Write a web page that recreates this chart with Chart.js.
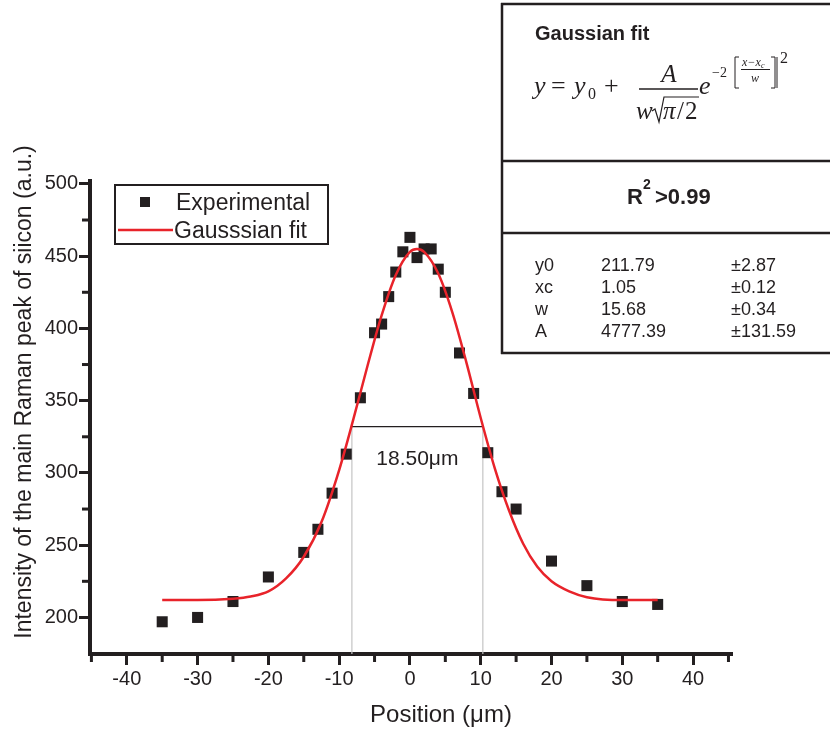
<!DOCTYPE html>
<html>
<head>
<meta charset="utf-8">
<title>Raman intensity across the line</title>
<script src="https://cdn.jsdelivr.net/npm/chart.js@4.4.0/dist/chart.umd.min.js"></script>
<style>
  html, body { margin: 0; padding: 0; background: #ffffff; }
  #wrap { width: 830px; height: 729px; }
</style>
</head>
<body>
<div id="wrap"><canvas id="raman" width="830" height="729"></canvas></div>
<script>
const positions = [-35, -30, -25, -20, -15, -13, -11, -9, -7, -5, -4, -3, -2, -1, 0, 1, 2, 3, 4, 5, 7, 9, 11, 13, 15, 20, 25, 30, 35];
const intensity = [197, 200, 211, 228, 245, 261, 286, 313, 352, 397, 403, 422, 439, 453, 463, 449, 455, 455, 441, 425, 383, 355, 314, 287, 275, 239, 222, 211, 209];

// Red fit curve, sampled from the figure
const fitX = [-35, -30, -25, -22.5, -20, -17.5, -15, -12.5, -10, -8, -6, -4, -2, 0, 1, 2, 4, 6, 8, 10, 12, 14, 16, 18, 20, 22.5, 25, 30, 35];
const fitY = [212, 212, 213, 214.5, 218, 227, 242, 266, 302, 337, 374, 409, 437, 453, 455, 453, 438, 411, 376, 338, 303, 274, 251, 235, 225, 218, 214, 212, 212];

// FWHM marker
const fwhmEdges = [-8.2, 10.3];
const fwhmLevel = 332;
const fwhmCentre = 1.05;
const fwhmLabel = '18.50\u03bcm';

// Axis ticks
const xTickValues = [-40, -30, -20, -10, 0, 10, 20, 30, 40];
const xMinorValues = [-45, -35, -25, -15, -5, 5, 15, 25, 35, 45];
const yTickValues = [200, 250, 300, 350, 400, 450, 500];
const yMinorValues = [225, 275, 325, 375, 425, 475];

// Fit parameter table
const paramNames = ['y0', 'xc', 'w', 'A'];
const paramValues = ['211.79', '1.05', '15.68', '4777.39'];
const paramErrors = ['\u00b12.87', '\u00b10.12', '\u00b10.34', '\u00b1131.59'];

const INK = '#231f20';
const RED = '#e8232a';
const SANS = '"Liberation Sans", Arial, Helvetica, sans-serif';
const SERIF = '"Liberation Serif", "Times New Roman", serif';

function hline(ctx, x1, x2, y) {
    ctx.beginPath(); ctx.moveTo(x1, y); ctx.lineTo(x2, y); ctx.stroke();
}
function vline(ctx, x, y1, y2) {
    ctx.beginPath(); ctx.moveTo(x, y1); ctx.lineTo(x, y2); ctx.stroke();
}

function drawFormula(ctx) {
    const it = s => 'italic ' + s + 'px ' + SERIF;
    const up = s => s + 'px ' + SERIF;
    ctx.fillStyle = INK;
    ctx.strokeStyle = INK;
    ctx.textBaseline = 'alphabetic';
    ctx.textAlign = 'left';

    ctx.font = it(26); ctx.fillText('y', 534, 94);
    ctx.font = up(26); ctx.fillText('=', 551, 94);
    ctx.font = it(26); ctx.fillText('y', 574, 94);
    ctx.font = up(16); ctx.fillText('0', 588, 99);
    ctx.font = up(26); ctx.fillText('+', 604, 94);

    // fraction A / (w sqrt(pi/2))
    ctx.font = it(25); ctx.textAlign = 'center'; ctx.fillText('A', 669, 82);
    ctx.lineWidth = 1.3; hline(ctx, 639, 698, 89);
    ctx.textAlign = 'left';
    ctx.fillText('w', 636, 119);
    ctx.lineWidth = 1.2;
    ctx.beginPath();
    ctx.moveTo(652, 111); ctx.lineTo(655, 109); ctx.lineTo(659, 122);
    ctx.lineTo(664, 97); ctx.lineTo(699, 97);
    ctx.stroke();
    ctx.fillText('\u03c0', 663, 119);
    ctx.font = up(25); ctx.fillText('/', 677, 119); ctx.fillText('2', 685, 119);
    ctx.font = it(26); ctx.fillText('e', 699, 94);

    // exponent -2[(x - xc)/w]^2
    ctx.font = up(14); ctx.fillText('\u22122', 712, 77);
    ctx.lineWidth = 1;
    ctx.beginPath(); ctx.moveTo(739, 57); ctx.lineTo(735, 57); ctx.lineTo(735, 88); ctx.lineTo(739, 88); ctx.stroke();
    ctx.font = it(12); ctx.fillText('x\u2212x', 742, 66);
    ctx.font = it(8); ctx.fillText('c', 761, 68);
    hline(ctx, 741, 770, 69.5);
    ctx.font = it(12); ctx.textAlign = 'center'; ctx.fillText('w', 755, 82);
    ctx.textAlign = 'left';
    ctx.beginPath(); ctx.moveTo(771, 57); ctx.lineTo(775, 57); ctx.lineTo(775, 88); ctx.lineTo(771, 88); ctx.stroke();
    ctx.beginPath(); ctx.moveTo(777, 57); ctx.lineTo(777, 88); ctx.stroke();
    ctx.font = up(16); ctx.fillText('2', 780, 63);
}

function drawTable(ctx) {
    ctx.save();
    ctx.fillStyle = '#ffffff';
    ctx.fillRect(502, 4, 330, 349);
    ctx.strokeStyle = INK;
    ctx.lineWidth = 2.5;
    vline(ctx, 502, 3, 354);
    hline(ctx, 501, 831, 4);
    hline(ctx, 501, 831, 161);
    hline(ctx, 501, 831, 233);
    hline(ctx, 501, 831, 353);

    ctx.fillStyle = INK;
    ctx.textBaseline = 'alphabetic';
    ctx.font = 'bold 20px ' + SANS;
    ctx.fillText('Gaussian fit', 535, 40);
    drawFormula(ctx);

    ctx.font = 'bold 22px ' + SANS;
    ctx.fillText('R', 627, 204);
    ctx.font = 'bold 14px ' + SANS;
    ctx.fillText('2', 643, 189);
    ctx.font = 'bold 22px ' + SANS;
    ctx.fillText('>0.99', 655, 204);

    ctx.font = '18px ' + SANS;
    paramNames.forEach((n, i) => {
        const by = 271 + i * 22;
        ctx.fillText(n, 535, by);
        ctx.fillText(paramValues[i], 601, by);
        ctx.fillText(paramErrors[i], 731, by);
    });
    ctx.restore();
}

function drawLegend(ctx) {
    ctx.save();
    ctx.strokeStyle = INK;
    ctx.lineWidth = 2;
    ctx.strokeRect(115, 185, 213, 59);
    ctx.fillStyle = INK;
    ctx.fillRect(140, 197, 10, 10);
    ctx.strokeStyle = RED;
    ctx.lineWidth = 2.5;
    hline(ctx, 118, 173, 230);
    ctx.fillStyle = INK;
    ctx.font = '23px ' + SANS;
    ctx.textBaseline = 'alphabetic';
    ctx.fillText('Experimental', 176, 210);
    ctx.fillText('Gausssian fit', 174, 238);
    ctx.restore();
}

const extras = {
    id: 'extras',
    afterDraw(chart) {
        const ctx = chart.ctx;
        const area = chart.chartArea;
        const xs = chart.scales.x, ys = chart.scales.y;
        ctx.save();

        // minor ticks
        ctx.strokeStyle = INK;
        ctx.lineWidth = 3;
        xMinorValues.forEach(v => {
            const px = xs.getPixelForValue(v);
            vline(ctx, px, area.bottom, area.bottom + 8);
        });
        yMinorValues.forEach(v => {
            const py = ys.getPixelForValue(v);
            hline(ctx, area.left - 8, area.left, py);
        });

        // FWHM label
        ctx.fillStyle = INK;
        ctx.font = '21px ' + SANS;
        ctx.textAlign = 'center';
        ctx.textBaseline = 'alphabetic';
        ctx.fillText(fwhmLabel, xs.getPixelForValue(fwhmCentre), 465);

        // axis titles
        ctx.font = '24px ' + SANS;
        ctx.fillText('Position (\u03bcm)', 441, 722);
        ctx.save();
        ctx.translate(31, 392);
        ctx.rotate(-Math.PI / 2);
        ctx.font = '23px ' + SANS;
        ctx.fillText('Intensity of the main Raman peak of siicon (a.u.)', 0, 0);
        ctx.restore();

        ctx.restore();
        drawLegend(ctx);
        drawTable(ctx);
    }
};

const tickFont = { family: SANS, size: 20 };

new Chart(document.getElementById('raman'), {
    type: 'scatter',
    data: {
        datasets: [{
            label: 'Gausssian fit',
            data: fitX.map((x, i) => ({ x: x, y: fitY[i] })),
            showLine: true,
            borderColor: RED,
            borderWidth: 2.5,
            pointRadius: 0,
            cubicInterpolationMode: 'monotone'
        }, {
            label: 'Experimental',
            data: positions.map((x, i) => ({ x: x, y: intensity[i] })),
            pointStyle: 'rect',
            pointRadius: 7.8,
            backgroundColor: INK,
            borderWidth: 0
        }, {
            label: 'half maximum',
            data: [{ x: fwhmEdges[0], y: fwhmLevel }, { x: fwhmEdges[1], y: fwhmLevel }],
            showLine: true,
            borderColor: INK,
            borderWidth: 1.2,
            pointRadius: 0
        }, {
            label: 'left edge',
            data: [{ x: fwhmEdges[0], y: fwhmLevel }, { x: fwhmEdges[0], y: 150 }],
            showLine: true,
            borderColor: '#c4c4c4',
            borderWidth: 1.2,
            pointRadius: 0
        }, {
            label: 'right edge',
            data: [{ x: fwhmEdges[1], y: fwhmLevel }, { x: fwhmEdges[1], y: 150 }],
            showLine: true,
            borderColor: '#c4c4c4',
            borderWidth: 1.2,
            pointRadius: 0
        }]
    },
    options: {
        responsive: false,
        animation: false,
        events: [],
        layout: { padding: { left: 0, top: 181, right: 98, bottom: 0 } },
        plugins: {
            legend: { display: false },
            tooltip: { enabled: false }
        },
        scales: {
            x: {
                type: 'linear',
                min: -45.2,
                max: 45.5,
                afterBuildTicks: s => { s.ticks = xTickValues.map(v => ({ value: v })); },
                afterFit: s => { s.height = 75; },
                border: { display: true, color: INK, width: 4 },
                grid: { drawOnChartArea: false, drawTicks: true, tickLength: 11, tickWidth: 3, tickColor: INK },
                ticks: { color: INK, font: tickFont, padding: 2, maxRotation: 0, autoSkip: false }
            },
            y: {
                type: 'linear',
                min: 174.7,
                max: 502,
                afterBuildTicks: s => { s.ticks = yTickValues.map(v => ({ value: v })); },
                afterFit: s => { s.width = 90; },
                border: { display: true, color: INK, width: 4 },
                grid: { drawOnChartArea: false, drawTicks: true, tickLength: 11, tickWidth: 3, tickColor: INK },
                ticks: { color: INK, font: tickFont, padding: 1, autoSkip: false }
            }
        }
    },
    plugins: [extras]
});
</script>
</body>
</html>
